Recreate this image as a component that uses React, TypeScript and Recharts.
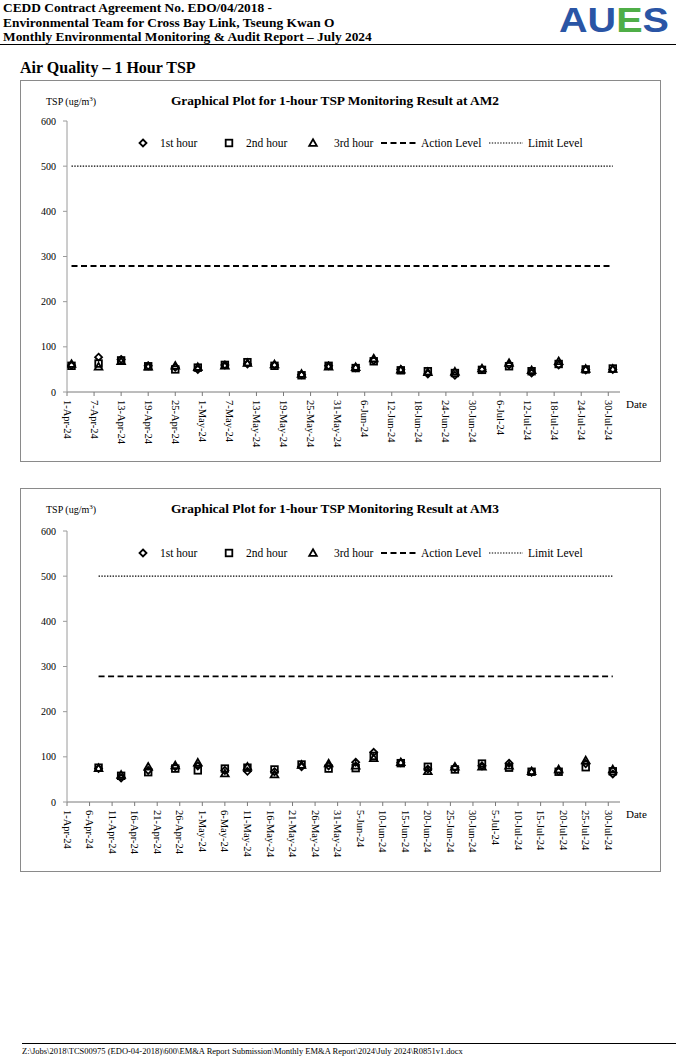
import { ScatterChart, Scatter, XAxis, YAxis, ReferenceLine } from "recharts";

const SERIF = '"Liberation Serif", "Times New Roman", serif';

// AM2 monitoring dates and 1-hour TSP results (ug/m3)
const AM2_DATES = [
  "2024-04-02", "2024-04-08", "2024-04-13", "2024-04-19", "2024-04-25", "2024-04-30",
  "2024-05-06", "2024-05-11", "2024-05-17", "2024-05-23", "2024-05-29", "2024-06-04",
  "2024-06-08", "2024-06-14", "2024-06-20", "2024-06-26", "2024-07-02", "2024-07-08",
  "2024-07-13", "2024-07-19", "2024-07-25", "2024-07-31",
];
const AM2_HOUR1 = [59, 77, 72, 58, 55, 50, 60, 62, 60, 38, 58, 54, 70, 50, 40, 37, 50, 60, 42, 60, 49, 50];
const AM2_HOUR2 = [58, 63, 70, 57, 50, 54, 60, 66, 58, 37, 58, 53, 68, 48, 46, 42, 49, 57, 46, 62, 50, 52];
const AM2_HOUR3 = [62, 56, 68, 56, 58, 55, 58, 64, 61, 40, 56, 55, 74, 49, 44, 45, 52, 64, 48, 68, 51, 51];
const AM2_ACTION = 279;

// AM3 monitoring dates and 1-hour TSP results (ug/m3)
const AM3_DATES = [
  "2024-04-08", "2024-04-13", "2024-04-19", "2024-04-25", "2024-04-30", "2024-05-06",
  "2024-05-11", "2024-05-17", "2024-05-23", "2024-05-29", "2024-06-04", "2024-06-08",
  "2024-06-14", "2024-06-20", "2024-06-26", "2024-07-02", "2024-07-08", "2024-07-13",
  "2024-07-19", "2024-07-25", "2024-07-31",
];
const AM3_HOUR1 = [74, 53, 70, 78, 80, 70, 68, 67, 78, 80, 88, 110, 87, 73, 76, 80, 86, 66, 68, 85, 62];
const AM3_HOUR2 = [76, 58, 66, 74, 70, 74, 76, 72, 83, 74, 75, 102, 86, 78, 72, 85, 76, 67, 67, 77, 68];
const AM3_HOUR3 = [75, 60, 78, 81, 87, 63, 78, 61, 82, 85, 80, 97, 88, 68, 78, 78, 80, 68, 72, 92, 72];
const AM3_ACTION = 278;

const LIMIT_LEVEL = 500;

const AM2_TICKS = [
  "2024-04-01", "2024-04-07", "2024-04-13", "2024-04-19", "2024-04-25", "2024-05-01",
  "2024-05-07", "2024-05-13", "2024-05-19", "2024-05-25", "2024-05-31", "2024-06-06",
  "2024-06-12", "2024-06-18", "2024-06-24", "2024-06-30", "2024-07-06", "2024-07-12",
  "2024-07-18", "2024-07-24", "2024-07-30",
];
const AM3_TICKS = [
  "2024-04-01", "2024-04-06", "2024-04-11", "2024-04-16", "2024-04-21", "2024-04-26",
  "2024-05-01", "2024-05-06", "2024-05-11", "2024-05-16", "2024-05-21", "2024-05-26",
  "2024-05-31", "2024-06-05", "2024-06-10", "2024-06-15", "2024-06-20", "2024-06-25",
  "2024-06-30", "2024-07-05", "2024-07-10", "2024-07-15", "2024-07-20", "2024-07-25",
  "2024-07-30",
];
const Y_TICKS = [0, 100, 200, 300, 400, 500, 600];

const MONTHS = ["Jan", "Feb", "Mar", "Apr", "May", "Jun", "Jul", "Aug", "Sep", "Oct", "Nov", "Dec"];
const BASE = Date.UTC(2024, 3, 1);
const DAY = 86400000;

const dayOf = (iso: string) => {
  const [y, m, d] = iso.split("-").map(Number);
  return (Date.UTC(y, m - 1, d) - BASE) / DAY;
};
const fmtDate = (t: number) => {
  const dt = new Date(BASE + t * DAY);
  return `${dt.getUTCDate()}-${MONTHS[dt.getUTCMonth()]}-${String(dt.getUTCFullYear()).slice(2)}`;
};

const pts = (dates: string[], vals: number[]) => dates.map((d, i) => ({ t: dayOf(d), v: vals[i] }));

function Diamond(props: any) {
  const { cx, cy } = props;
  const r = 3.5;
  return <path d={`M${cx},${cy - r}L${cx + r},${cy}L${cx},${cy + r}L${cx - r},${cy}Z`} fill="none" stroke="#000" strokeWidth={1.8} />;
}
function Square(props: any) {
  const { cx, cy } = props;
  const r = 3.3;
  return <rect x={cx - r} y={cy - r} width={r * 2} height={r * 2} fill="none" stroke="#000" strokeWidth={1.8} />;
}
function Triangle(props: any) {
  const { cx, cy } = props;
  const r = 3.8;
  return <path d={`M${cx},${cy - r}L${cx + r},${cy + r * 0.75}L${cx - r},${cy + r * 0.75}Z`} fill="none" stroke="#000" strokeWidth={1.8} />;
}

function DateTick({ x, y, payload }: any) {
  return (
    <g transform={`translate(${x},${y})`}>
      <text transform="rotate(90)" x={3} y={0} dy="0.33em" textAnchor="start" fontFamily={SERIF} fontSize={10.5} fill="#000">
        {fmtDate(payload.value)}
      </text>
    </g>
  );
}

function LegendRow({ top }: { top: number }) {
  return (
    <svg style={{ position: "absolute", left: 0, top, width: 676, height: 16 }} width={676} height={16}>
      <Diamond cx={143} cy={8} />
      <text x={160} y={12} fontFamily={SERIF} fontSize={11.5}>1st hour</text>
      <Square cx={229} cy={8} />
      <text x={246} y={12} fontFamily={SERIF} fontSize={11.5}>2nd hour</text>
      <Triangle cx={313} cy={8} />
      <text x={334} y={12} fontFamily={SERIF} fontSize={11.5}>3rd hour</text>
      <line x1={381} y1={8} x2={416} y2={8} stroke="#000" strokeWidth={1.8} strokeDasharray="6 3.5" />
      <text x={421} y={12} fontFamily={SERIF} fontSize={11.5}>Action Level</text>
      <line x1={489} y1={8} x2={523} y2={8} stroke="#000" strokeWidth={1.2} strokeDasharray="1.4 1.4" />
      <text x={528} y={12} fontFamily={SERIF} fontSize={11.5}>Limit Level</text>
    </svg>
  );
}

interface PanelProps {
  top: number;
  height: number;
  station: string;
  dates: string[];
  h1: number[];
  h2: number[];
  h3: number[];
  action: number;
  ticks: string[];
}

function Panel({ top, height, station, dates, h1, h2, h3, action, ticks }: PanelProps) {
  const t0 = dayOf(dates[0]);
  const tN = dayOf(dates[dates.length - 1]);
  const chartH = height - 2;
  const shift = station === "AM3" ? 2 : 0;
  const plotTop = 41 + shift;
  return (
    <>
      <div style={{ position: "absolute", left: 20, top, width: 641, height, border: "1px solid #8a8a8a", boxSizing: "border-box" }} />
      <div style={{ position: "absolute", left: 46, top: top + 15, fontFamily: SERIF, fontSize: 10, whiteSpace: "nowrap" }}>
        TSP (ug/m<sup style={{ fontSize: 7 }}>3</sup>)
      </div>
      <div style={{ position: "absolute", left: 150, top: top + 13, width: 370, textAlign: "center", fontFamily: SERIF, fontSize: 13.4, fontWeight: "bold", whiteSpace: "nowrap" }}>
        Graphical Plot for 1-hour TSP Monitoring Result at {station}
      </div>
      <div style={{ position: "absolute", left: 0, top }}>
        <ScatterChart width={676} height={chartH} margin={{ top: plotTop, right: 56, left: 37, bottom: chartH - plotTop - 271 - 60 }}>
          <XAxis
            type="number"
            dataKey="t"
            domain={[0, 122.6]}
            ticks={ticks.map(dayOf)}
            tick={<DateTick />}
            tickSize={4}
            tickMargin={1}
            interval={0}
            height={60}
            stroke="#7a7a7a"
            allowDataOverflow
          />
          <YAxis
            type="number"
            dataKey="v"
            domain={[0, 600]}
            ticks={Y_TICKS}
            width={30}
            tickSize={4}
            tickMargin={7}
            stroke="#9a9a9a"
            tick={{ fontFamily: SERIF, fontSize: 10, fill: "#000" }}
          />
          <ReferenceLine segment={[{ x: t0, y: LIMIT_LEVEL }, { x: tN, y: LIMIT_LEVEL }]} stroke="#000" strokeWidth={1.2} strokeDasharray="1.4 1.4" />
          <ReferenceLine segment={[{ x: t0, y: action }, { x: tN, y: action }]} stroke="#000" strokeWidth={1.8} strokeDasharray="6 3.5" />
          <Scatter name="1st hour" data={pts(dates, h1)} shape={Diamond} isAnimationActive={false} />
          <Scatter name="2nd hour" data={pts(dates, h2)} shape={Square} isAnimationActive={false} />
          <Scatter name="3rd hour" data={pts(dates, h3)} shape={Triangle} isAnimationActive={false} />
        </ScatterChart>
      </div>
      <LegendRow top={top + 55 + shift} />
      <div style={{ position: "absolute", left: 626, top: top + 318 + shift, fontFamily: SERIF, fontSize: 11 }}>Date</div>
    </>
  );
}

export default function App() {
  return (
    <div style={{ position: "absolute", left: 0, top: 0, width: 676, height: 1060, background: "#fff", color: "#000", overflow: "hidden" }}>
      <div style={{ position: "absolute", left: 3, top: 1, fontFamily: SERIF, fontWeight: "bold", fontSize: 13.4, lineHeight: "14.5px", whiteSpace: "nowrap" }}>
        <div>CEDD Contract Agreement No. EDO/04/2018 -</div>
        <div>Environmental Team for Cross Bay Link, Tseung Kwan O</div>
        <div>Monthly Environmental Monitoring &amp; Audit Report – July 2024</div>
      </div>
      <div style={{ position: "absolute", left: 559, top: 0, fontFamily: '"Liberation Sans", Arial, sans-serif', fontWeight: "bold", fontSize: 35, lineHeight: "normal", whiteSpace: "nowrap", transform: "scaleX(1.13)", transformOrigin: "left top" }}>
        <span style={{ color: "#2a55a5" }}>AU</span>
        <span style={{ color: "#4fae47" }}>E</span>
        <span style={{ color: "#2a55a5" }}>S</span>
      </div>
      <div style={{ position: "absolute", left: 0, top: 44, width: 676, height: 1, background: "#000" }} />
      <div style={{ position: "absolute", left: 20, top: 59, fontFamily: SERIF, fontWeight: "bold", fontSize: 16, whiteSpace: "nowrap" }}>
        Air Quality – 1 Hour TSP
      </div>

      <Panel top={80} height={382} station="AM2" dates={AM2_DATES} h1={AM2_HOUR1} h2={AM2_HOUR2} h3={AM2_HOUR3} action={AM2_ACTION} ticks={AM2_TICKS} />
      <Panel top={488} height={384} station="AM3" dates={AM3_DATES} h1={AM3_HOUR1} h2={AM3_HOUR2} h3={AM3_HOUR3} action={AM3_ACTION} ticks={AM3_TICKS} />

      <div style={{ position: "absolute", left: 22, top: 1043, width: 654, height: 1, background: "#000" }} />
      <div style={{ position: "absolute", left: 22, top: 1046, fontFamily: SERIF, fontSize: 8.5, whiteSpace: "nowrap" }}>
        Z:\Jobs\2018\TCS00975 (EDO-04-2018)\600\EM&amp;A Report Submission\Monthly EM&amp;A Report\2024\July 2024\R0851v1.docx
      </div>
    </div>
  );
}
